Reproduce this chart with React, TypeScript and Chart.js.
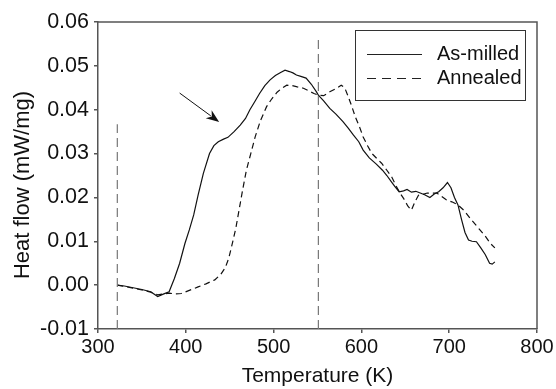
import React, { useEffect, useRef } from "react";
import { Chart, registerables } from "chart.js";

Chart.register(...registerables);

const asMilledT = [322, 330, 340, 350, 360, 368, 375, 381, 387, 393, 399, 404, 409, 414, 420, 427, 432, 437, 443, 448, 455, 462, 468, 473, 479, 484, 490, 496, 502, 508, 513, 518, 522, 526, 531, 537, 543, 549, 551, 557, 564, 571, 579, 585, 591, 597, 602, 609, 617, 624, 629, 634, 638, 643, 648, 652, 657, 662, 667, 672, 678, 683, 688, 693, 698, 702, 706, 710, 714, 718, 722, 726, 731, 736, 741, 746, 749, 752];
const asMilledV = [0.0, -0.0002, -0.0006, -0.001, -0.0015, -0.0026, -0.002, -0.0015, 0.0015, 0.005, 0.0095, 0.0126, 0.016, 0.0205, 0.0255, 0.03, 0.0318, 0.0327, 0.0333, 0.0337, 0.035, 0.0365, 0.038, 0.04, 0.042, 0.0437, 0.0455, 0.0468, 0.0478, 0.0485, 0.049, 0.0487, 0.0484, 0.0479, 0.0476, 0.0472, 0.0458, 0.044, 0.0433, 0.042, 0.0403, 0.039, 0.0373, 0.0358, 0.0342, 0.0327, 0.0308, 0.029, 0.0276, 0.0262, 0.025, 0.0236, 0.0225, 0.0213, 0.0215, 0.0218, 0.0212, 0.0214, 0.021, 0.0206, 0.02, 0.0208, 0.0213, 0.0222, 0.0234, 0.0222, 0.02, 0.0183, 0.015, 0.012, 0.0103, 0.01, 0.0099, 0.0085, 0.007, 0.005, 0.0048, 0.0053];

const annealedT = [322, 330, 340, 350, 360, 368, 375, 381, 387, 395, 404, 414, 423, 433, 440, 445, 449, 453, 457, 461, 465, 469, 474, 479, 485, 492, 498, 504, 510, 515, 521, 527, 534, 540, 546, 551, 557, 564, 571, 577, 581, 585, 589, 593, 598, 602, 607, 612, 617, 623, 629, 635, 640, 644, 648, 653, 657, 661, 665, 670, 675, 680, 686, 691, 697, 703, 710, 717, 724, 730, 735, 741, 747, 752];
const annealedV = [0.0, -0.0003, -0.0007, -0.0011, -0.0016, -0.0022, -0.002, -0.0018, -0.002, -0.0019, -0.0012, -0.0004, 0.0003, 0.0012, 0.0025, 0.004, 0.0062, 0.0095, 0.013, 0.0175, 0.022, 0.0262, 0.03, 0.0338, 0.0375, 0.0407, 0.0425, 0.044, 0.045, 0.0456, 0.0455, 0.0452, 0.0449, 0.0443, 0.0437, 0.0433, 0.0432, 0.0441, 0.0448, 0.0456, 0.045, 0.043, 0.0408, 0.0384, 0.036, 0.0338, 0.0318, 0.03, 0.029, 0.0278, 0.0262, 0.0245, 0.0224, 0.021, 0.0198, 0.018, 0.0171, 0.019, 0.0205, 0.0207, 0.021, 0.021, 0.021, 0.0203, 0.0194, 0.019, 0.0183, 0.017, 0.0152, 0.0138, 0.0126, 0.0112, 0.0095, 0.0085];

const markerLine1T = [322, 322];
const markerLine1V = [-0.01, 0.0367];
const markerLine2T = [551, 551];
const markerLine2V = [-0.01, 0.0566];

const arrowFrom = [393, 0.0438];
const arrowTo = [438, 0.0372];

const seriesNames = ["As-milled", "Annealed"];
const xTitle = "Temperature (K)";
const yTitle = "Heat flow (mW/mg)";

const FONT = "'Liberation Sans', Arial, Helvetica, sans-serif";
const AXIS = "#555555";

const zip = (xs: number[], ys: number[]) => xs.map((x, i) => ({ x, y: ys[i] }));

const decorPlugin = {
  id: "decor",
  afterDatasetsDraw(chart: any) {
    const { ctx, chartArea, scales } = chart;
    const xs = scales.x;
    const ys = scales.y;
    ctx.save();
    // frame top/right
    ctx.strokeStyle = AXIS;
    ctx.lineWidth = 1.5;
    ctx.beginPath();
    ctx.moveTo(chartArea.left, chartArea.top);
    ctx.lineTo(chartArea.right, chartArea.top);
    ctx.lineTo(chartArea.right, chartArea.bottom);
    ctx.stroke();

    // y-axis title
    ctx.save();
    ctx.translate(23, 185);
    ctx.rotate(-Math.PI / 2);
    ctx.font = `22px ${FONT}`;
    ctx.fillStyle = "#111";
    ctx.textAlign = "center";
    ctx.textBaseline = "middle";
    ctx.fillText(yTitle, 0, 0);
    ctx.restore();

    // arrow
    const x0 = xs.getPixelForValue(arrowFrom[0]);
    const y0 = ys.getPixelForValue(arrowFrom[1]);
    const x1 = xs.getPixelForValue(arrowTo[0]);
    const y1 = ys.getPixelForValue(arrowTo[1]);
    const ang = Math.atan2(y1 - y0, x1 - x0);
    const headLen = 13;
    const headW = 5;
    ctx.strokeStyle = "#111";
    ctx.fillStyle = "#111";
    ctx.lineWidth = 1;
    ctx.beginPath();
    ctx.moveTo(x0, y0);
    ctx.lineTo(x1 - Math.cos(ang) * headLen * 0.8, y1 - Math.sin(ang) * headLen * 0.8);
    ctx.stroke();
    const bx = x1 - Math.cos(ang) * headLen;
    const by = y1 - Math.sin(ang) * headLen;
    ctx.beginPath();
    ctx.moveTo(x1, y1);
    ctx.lineTo(bx + Math.sin(ang) * headW, by - Math.cos(ang) * headW);
    ctx.lineTo(x1 - Math.cos(ang) * headLen * 0.7, y1 - Math.sin(ang) * headLen * 0.7);
    ctx.lineTo(bx - Math.sin(ang) * headW, by + Math.cos(ang) * headW);
    ctx.closePath();
    ctx.fill();

    // legend box
    const lx = 355.5, ly = 30.5, lw = 170, lh = 70;
    ctx.fillStyle = "#fff";
    ctx.fillRect(lx, ly, lw, lh);
    ctx.strokeStyle = "#333";
    ctx.lineWidth = 1;
    ctx.strokeRect(lx, ly, lw, lh);
    const rows = [54.5, 78.5];
    const dashes = [[], [9, 6]];
    ctx.font = `20px ${FONT}`;
    ctx.textBaseline = "middle";
    ctx.textAlign = "left";
    rows.forEach((ry, i) => {
      ctx.strokeStyle = "#222";
      ctx.lineWidth = 1.2;
      ctx.setLineDash(dashes[i]);
      ctx.beginPath();
      ctx.moveTo(367, ry);
      ctx.lineTo(422, ry);
      ctx.stroke();
      ctx.setLineDash([]);
      ctx.fillStyle = "#111";
      ctx.fillText(seriesNames[i], 437, ry);
    });
    ctx.restore();
  },
};

export default function App() {
  const ref = useRef<HTMLCanvasElement>(null);
  useEffect(() => {
    if (!ref.current) return;
    Chart.defaults.font.family = FONT;
    const chart = new Chart(ref.current, {
      type: "line",
      data: {
        datasets: [
          {
            label: "marker1",
            data: zip(markerLine1T, markerLine1V),
            borderColor: "#777",
            borderWidth: 1.2,
            borderDash: [9, 5],
            pointRadius: 0,
          },
          {
            label: "marker2",
            data: zip(markerLine2T, markerLine2V),
            borderColor: "#777",
            borderWidth: 1.2,
            borderDash: [9, 5],
            pointRadius: 0,
          },
          {
            label: seriesNames[1],
            data: zip(annealedT, annealedV),
            borderColor: "#111",
            borderWidth: 1.2,
            borderDash: [6, 4],
            pointRadius: 0,
          },
          {
            label: seriesNames[0],
            data: zip(asMilledT, asMilledV),
            borderColor: "#111",
            borderWidth: 1.2,
            pointRadius: 0,
          },
        ],
      },
      options: {
        animation: false,
        responsive: false,
        maintainAspectRatio: false,
        layout: { padding: { top: 22, right: 19, left: 0, bottom: 0 } },
        plugins: { legend: { display: false }, tooltip: { enabled: false } },
        elements: { line: { tension: 0 }, point: { radius: 0 } },
        scales: {
          x: {
            type: "linear",
            min: 300,
            max: 800,
            ticks: {
              stepSize: 100,
              color: "#111",
              font: { size: 20 },
              padding: 2,
            },
            grid: { drawOnChartArea: false, drawTicks: true, tickLength: 4, color: AXIS, lineWidth: 1.5 },
            border: { color: AXIS, width: 1.5 },
            title: {
              display: true,
              text: xTitle,
              color: "#111",
              font: { size: 21 },
              padding: { top: 3, bottom: 0 },
            },
            afterFit: (s: any) => {
              s.height = 60;
            },
          },
          y: {
            type: "linear",
            min: -0.01,
            max: 0.06,
            ticks: {
              stepSize: 0.01,
              color: "#111",
              font: { size: 21.5 },
              padding: 5,
              callback: (v: any) => {
                const n = Number(v);
                return Math.abs(n) < 1e-9 ? "0.00" : n.toFixed(2);
              },
            },
            grid: { drawOnChartArea: false, drawTicks: true, tickLength: 4, color: AXIS, lineWidth: 1.5 },
            border: { color: AXIS, width: 1.5 },
            title: { display: false },
            afterFit: (s: any) => {
              s.width = 98;
            },
          },
        },
      },
      plugins: [decorPlugin],
    } as any);
    return () => chart.destroy();
  }, []);
  return (
    <div style={{ position: "fixed", left: 0, top: 0, width: 556, height: 389, background: "#fff" }}>
      <canvas ref={ref} width={556} height={389} style={{ width: 556, height: 389 }} />
    </div>
  );
}
